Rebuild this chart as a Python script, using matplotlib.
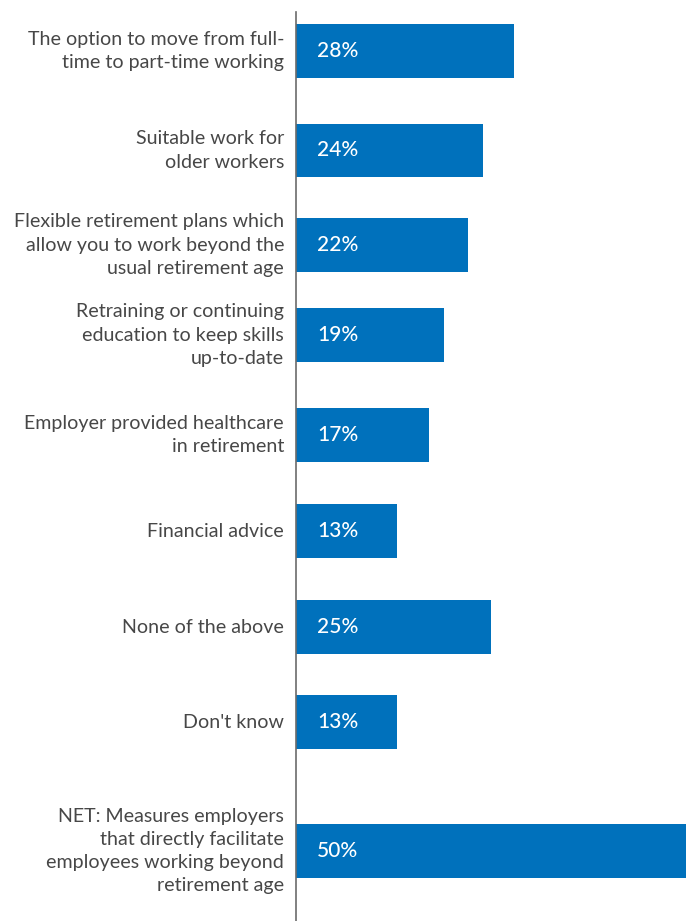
import matplotlib
matplotlib.use("Agg")
import matplotlib.pyplot as plt

categories = [
    "The option to move from full-\ntime to part-time working",
    "Suitable work for\nolder workers",
    "Flexible retirement plans which\nallow you to work beyond the\nusual retirement age",
    "Retraining or continuing\neducation to keep skills\nup-to-date",
    "Employer provided healthcare\nin retirement",
    "Financial advice",
    "None of the above",
    "Don't know",
    "NET: Measures employers\nthat directly facilitate\nemployees working beyond\nretirement age",
]
values = [28, 24, 22, 19, 17, 13, 25, 13, 50]
value_labels = ["28%", "24%", "22%", "19%", "17%", "13%", "25%", "13%", "50%"]

W, H, DPI = 692, 921, 100
fig = plt.figure(figsize=(W / DPI, H / DPI), dpi=DPI)
fig.patch.set_facecolor("white")

x0 = 296
ax = fig.add_axes([x0 / W, 0, (W - x0) / W, 1])
px_per_pct = 7.8
ax.set_xlim(0, (W - x0) / px_per_pct)
ax.set_ylim(H, 0)

# vertical slot centres (pixel rows), last group set apart
centres = [51, 150.5, 245, 335, 435, 531, 627, 722, 851]
bar_h = 53.5

bar_color = "#0071BC"
ax.barh(centres, values, height=bar_h, color=bar_color, left=0)

for y, lab in zip(centres, value_labels):
    ax.annotate(lab, xy=(0, y), xytext=(21, 0), textcoords="offset pixels",
                ha="left", va="center", color="white", fontsize=15,
                family=["Lato", "DejaVu Sans"], fontweight="medium")

for y, cat in zip(centres, categories):
    ax.annotate(cat, xy=(0, y), xytext=(-12, 0), textcoords="offset pixels",
                ha="right", va="center", color="#474747", fontsize=14.1,
                family=["Lato", "DejaVu Sans"], fontweight="normal",
                linespacing=1.45, annotation_clip=False)

for s in ["top", "right", "bottom"]:
    ax.spines[s].set_visible(False)
ax.spines["left"].set_bounds(12, H)
ax.spines["left"].set_color("#6b6b6b")
ax.spines["left"].set_linewidth(1.2)
ax.set_xticks([])
ax.set_yticks([])
ax.patch.set_alpha(0)

fig.savefig("out.png", dpi=DPI, facecolor="white")
